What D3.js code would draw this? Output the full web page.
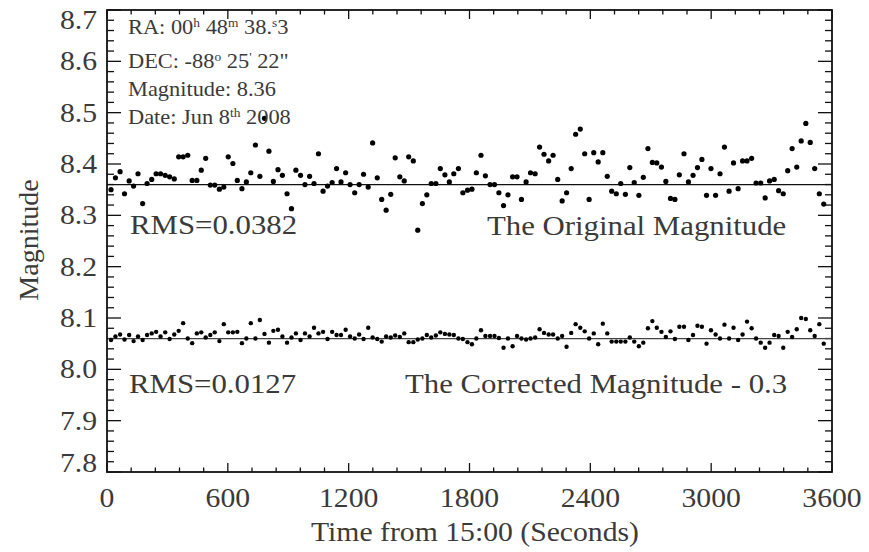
<!DOCTYPE html>
<html>
<head>
<meta charset="utf-8">
<script src="https://cdn.jsdelivr.net/npm/d3@7"></script>
<style>
  body { margin: 0; background: #fff; }
  text { font-family: "Liberation Serif", "Times New Roman", serif; fill: #3a3a3a; }
</style>
</head>
<body>
<div id="chart"></div>
<script>
// sample times (seconds from 15:00)
let times = [20, 42, 65, 87, 110, 132, 154, 177, 199, 222, 244, 266, 289, 311, 334, 356, 378, 401, 423, 446,
    468, 490, 513, 535, 558, 580, 602, 625, 647, 670, 692, 714, 737, 759, 782, 804, 826, 849, 871, 894,
    916, 938, 961, 983, 1006, 1028, 1050, 1073, 1095, 1118, 1140, 1162, 1185, 1207, 1230, 1252, 1274, 1297, 1319, 1342,
    1364, 1386, 1409, 1431, 1454, 1476, 1498, 1521, 1543, 1566, 1588, 1610, 1633, 1655, 1678, 1700, 1722, 1745, 1767, 1790,
    1812, 1834, 1857, 1879, 1902, 1924, 1946, 1969, 1991, 2014, 2036, 2058, 2081, 2103, 2126, 2148, 2170, 2193, 2215, 2238,
    2260, 2282, 2305, 2327, 2350, 2372, 2394, 2417, 2439, 2462, 2484, 2506, 2529, 2551, 2574, 2596, 2618, 2641, 2663, 2686,
    2708, 2730, 2753, 2775, 2798, 2820, 2842, 2865, 2887, 2910, 2932, 2954, 2977, 2999, 3022, 3044, 3066, 3089, 3111, 3134,
    3156, 3178, 3201, 3223, 3246, 3268, 3290, 3313, 3335, 3358, 3380, 3402, 3425, 3447, 3470, 3492, 3514, 3537, 3559];

let original_mag = [8.350, 8.373, 8.385, 8.342, 8.367, 8.357, 8.381, 8.323, 8.362, 8.370,
    8.381, 8.381, 8.378, 8.375, 8.371, 8.414, 8.414, 8.417, 8.368, 8.368,
    8.388, 8.411, 8.359, 8.359, 8.351, 8.355, 8.414, 8.401, 8.368, 8.352,
    8.365, 8.383, 8.437, 8.376, 8.489, 8.425, 8.366, 8.389, 8.378, 8.342,
    8.313, 8.388, 8.378, 8.360, 8.376, 8.362, 8.420, 8.347, 8.357, 8.364,
    8.391, 8.365, 8.383, 8.360,
    8.344, 8.360, 8.380, 8.355, 8.441, 8.373, 8.331, 8.310, 8.341, 8.412,
    8.375, 8.367, 8.414, 8.406, 8.271, 8.323, 8.340, 8.362, 8.362, 8.391,
    8.379, 8.365, 8.381, 8.391, 8.344, 8.349, 8.351, 8.383, 8.417, 8.377,
    8.360, 8.360, 8.344, 8.319, 8.340, 8.375, 8.375, 8.331, 8.365, 8.383,
    8.381, 8.433, 8.419, 8.406, 8.417, 8.370, 8.328, 8.344, 8.391, 8.458,
    8.468, 8.420, 8.331,
    8.422, 8.404, 8.422, 8.376, 8.347, 8.342, 8.362, 8.341, 8.393, 8.364,
    8.339, 8.374, 8.430, 8.403, 8.402, 8.394, 8.366, 8.333, 8.331, 8.379,
    8.420, 8.365, 8.378, 8.393, 8.409, 8.339, 8.391, 8.339, 8.381, 8.433,
    8.347, 8.402, 8.352, 8.406, 8.406, 8.411, 8.363, 8.363, 8.334, 8.367,
    8.370, 8.348, 8.342, 8.387, 8.430, 8.394, 8.445, 8.479, 8.442, 8.391,
    8.342, 8.322];

let corrected_mag = [8.057, 8.064, 8.068, 8.058, 8.067, 8.055, 8.064, 8.057, 8.067, 8.070,
    8.073, 8.064, 8.072, 8.059, 8.068, 8.075, 8.090, 8.060, 8.051, 8.070,
    8.072, 8.062, 8.067, 8.072, 8.055, 8.088, 8.072, 8.072, 8.073, 8.051,
    8.060, 8.090, 8.060, 8.096, 8.069, 8.052, 8.075, 8.077, 8.064, 8.052,
    8.062, 8.070, 8.057, 8.070, 8.064, 8.081, 8.070, 8.073, 8.059, 8.073,
    8.067, 8.067, 8.077, 8.064, 8.060, 8.068, 8.059, 8.081, 8.062, 8.059,
    8.054, 8.064, 8.062, 8.066, 8.063, 8.070, 8.053, 8.053, 8.058, 8.060,
    8.067, 8.062, 8.066, 8.072, 8.069, 8.068, 8.067, 8.060, 8.059, 8.053,
    8.049, 8.060, 8.076, 8.065, 8.065, 8.065, 8.061, 8.042, 8.060, 8.045,
    8.065, 8.060, 8.058, 8.060, 8.062, 8.078, 8.071, 8.068, 8.068, 8.060,
    8.065, 8.044, 8.071, 8.088, 8.081, 8.074, 8.060, 8.070, 8.049, 8.089,
    8.070, 8.054, 8.054, 8.054, 8.054, 8.062, 8.054, 8.045, 8.052, 8.080,
    8.094, 8.081, 8.073, 8.063, 8.074, 8.059, 8.083, 8.083, 8.057, 8.067,
    8.085, 8.083, 8.050, 8.076, 8.068, 8.060, 8.087, 8.060, 8.081, 8.057,
    8.068, 8.093, 8.080, 8.060, 8.052, 8.042, 8.052, 8.067, 8.065, 8.042,
    8.073, 8.063, 8.078, 8.100, 8.098, 8.076, 8.065, 8.088, 8.050];

let mean_levels = [8.36, 8.06];
let x_tick_values = [0, 600, 1200, 1800, 2400, 3000, 3600];
let y_tick_values = [7.8, 7.9, 8.0, 8.1, 8.2, 8.3, 8.4, 8.5, 8.6, 8.7];

let width = 869, height = 552;
let plot = {left: 107, right: 832, top: 10, bottom: 472};

let svg = d3.select("#chart")
    .append("svg")
    .attr("width", width)
    .attr("height", height);

let x = d3.scaleLinear().domain([0, 3600]).range([plot.left, plot.right]);
let y = d3.scaleLinear().domain([7.8, 8.7]).range([plot.bottom, plot.top]);

// stretched serif text, like the original figure
let label = (px, py, str, size, anchor, sx) => {
    return svg.append("text")
        .attr("transform", `translate(${px}, ${py}) scale(${sx || 1.1}, 1)`)
        .attr("text-anchor", anchor || "start")
        .style("font-size", size + "px")
        .text(str);
};

// ticks: minor every 120 s / 0.02 mag, pointing inwards on all four sides
let x_minor = d3.range(0, 3601, 120);
let y_minor = d3.range(0, 46).map(i => 7.8 + i * 0.02);
let is_major_x = t => t % 600 === 0;
let is_major_y = v => Math.abs(v * 10 - Math.round(v * 10)) < 1e-6;

let ticks = svg.append("g").attr("stroke", "#111").attr("stroke-width", 1.3);

ticks.selectAll(".xb").data(x_minor).enter().append("line")
    .attr("x1", d => x(d)).attr("x2", d => x(d))
    .attr("y1", plot.bottom).attr("y2", d => plot.bottom - (is_major_x(d) ? 9 : 4.5));
ticks.selectAll(".xt").data(x_minor).enter().append("line")
    .attr("x1", d => x(d)).attr("x2", d => x(d))
    .attr("y1", plot.top).attr("y2", d => plot.top + (is_major_x(d) ? 9 : 4.5));
ticks.selectAll(".yl").data(y_minor).enter().append("line")
    .attr("y1", d => y(d)).attr("y2", d => y(d))
    .attr("x1", plot.left).attr("x2", d => plot.left + (is_major_y(d) ? 14 : 7));
ticks.selectAll(".yr").data(y_minor).enter().append("line")
    .attr("y1", d => y(d)).attr("y2", d => y(d))
    .attr("x1", plot.right).attr("x2", d => plot.right - (is_major_y(d) ? 14 : 7));

// mean lines
svg.selectAll(".mean").data(mean_levels).enter().append("line")
    .attr("x1", plot.left).attr("x2", plot.right)
    .attr("y1", d => y(d)).attr("y2", d => y(d))
    .attr("stroke", (d, i) => i === 0 ? "#111" : "#444")
    .attr("stroke-width", 1.3);

// points
svg.append("g").selectAll("circle")
    .data(original_mag)
    .enter()
    .append("circle")
    .attr("cx", (d, i) => x(times[i]))
    .attr("cy", d => y(d))
    .attr("r", 2.6)
    .attr("fill", "#000");

svg.append("g").selectAll("circle")
    .data(corrected_mag)
    .enter()
    .append("circle")
    .attr("cx", (d, i) => x(times[i]))
    .attr("cy", d => y(d))
    .attr("r", 2.2)
    .attr("fill", "#000");

// frame
svg.append("rect")
    .attr("x", plot.left).attr("y", plot.top)
    .attr("width", plot.right - plot.left).attr("height", plot.bottom - plot.top)
    .attr("fill", "none")
    .attr("stroke", "#111")
    .attr("stroke-width", 1.8);

// tick labels (end labels pulled inside the frame, as in the original)
y_tick_values.forEach(v => {
    let py = y(v) + 9;
    if (v === 8.7) py += 10;
    if (v === 7.8) py -= 9;
    label(97, py, v.toFixed(1), 27, "end");
});
x_tick_values.forEach(t => label(x(t), 507, t, 27, "middle"));

label(475, 541, "Time from 15:00 (Seconds)", 27, "middle");

svg.append("text")
    .attr("transform", "translate(38, 240) rotate(-90)")
    .attr("text-anchor", "middle")
    .style("font-size", "28px")
    .text("Magnitude");

label(130, 234, "RMS=0.0382", 28);
label(487, 235, "The Original Magnitude", 28);
label(129, 393, "RMS=0.0127", 28);
label(405, 393, "The Corrected Magnitude - 0.3", 28);

// star info, with superscripts
let info = [
    [["RA: 00", ""], ["h", "sup"], [" 48", ""], ["m", "sup"], [" 38.", ""], ["s", "sup"], ["3", ""]],
    [["DEC: -88", ""], ["o", "sup"], [" 25", ""], ["'", "sup"], [" 22\"", ""]],
    [["Magnitude: 8.36", ""]],
    [["Date: Jun 8", ""], ["th", "sup"], [" 2008", ""]]
];
let info_y = [34, 68, 96, 124];

info.forEach((parts, k) => {
    let t = label(128, info_y[k], "", 20, "start", 1.12);
    parts.forEach(p => {
        t.append("tspan")
            .attr("baseline-shift", p[1] === "sup" ? "7" : null)
            .style("font-size", p[1] === "sup" ? "12px" : null)
            .text(p[0]);
    });
});
</script>
</body>
</html>
